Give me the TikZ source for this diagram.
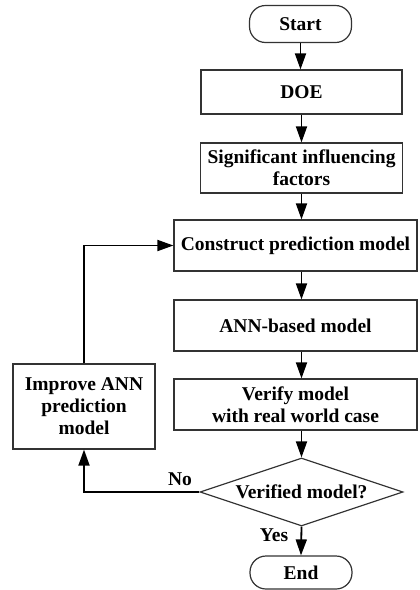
\documentclass[tikz,border=0pt]{standalone}
\usepackage{fontspec}
\setmainfont{Liberation Serif}
\usetikzlibrary{arrows.meta,shapes.geometric}
\tikzset{
  box/.style={draw=black!80, line width=1.2pt, rectangle, inner sep=0pt, align=center,
    font=\fontsize{19.5}{22}\selectfont\bfseries},
  term/.style={box, rounded corners=16pt},
  decision/.style={draw=black!80, line width=1.2pt, diamond, inner sep=0pt, shape aspect=3,
    font=\fontsize{19.5}{22}\selectfont\bfseries},
  arr/.style={draw=black, line width=1.8pt, -{Triangle[length=16pt,width=11pt]}},
  lbl/.style={font=\fontsize{19.5}{22}\selectfont\bfseries, inner sep=0pt}
}
\begin{document}
\begin{tikzpicture}[x=1pt,y=1pt]
\useasboundingbox (0,0) rectangle (420,-590);
\node[term, minimum width=102pt, minimum height=37pt] (start) at (300.5,-24) {Start};
\node[box, minimum width=201pt, minimum height=44pt] (doe) at (301.5,-92) {DOE};
\node[box, minimum width=202pt, minimum height=50pt] (sig) at (301.5,-168) {Significant influencing\\factors};
\node[box, minimum width=243pt, minimum height=51pt] (cons) at (295.5,-245.5) {Construct prediction model};
\node[box, minimum width=243pt, minimum height=51pt] (ann) at (295.5,-325.5) {ANN-based model};
\node[box, minimum width=243pt, minimum height=51pt] (ver) at (295.5,-404.5) {Verify model\\with real world case};
\node[box, minimum width=142pt, minimum height=85pt] (imp) at (84,-406.5) {Improve ANN\\prediction\\model};
\node[decision, minimum width=203pt, minimum height=68pt] (dec) at (301.5,-492) {Verified model?};
\node[term, minimum width=102pt, minimum height=33pt] (end) at (301,-572.5) {End};

\draw[arr] (start.south) -- (start.south |- doe.north);
\draw[arr] (doe.south) -- (doe.south |- sig.north);
\draw[arr] (sig.south) -- (sig.south |- cons.north);
\draw[arr] (sig.south |- cons.south) -- (sig.south |- ann.north);
\draw[arr] (sig.south |- ann.south) -- (sig.south |- ver.north);
\draw[arr] (sig.south |- ver.south) -- (dec.north);
\draw[arr] (dec.south) -- (end.north);
\draw[arr] (dec.west) -| (imp.south);
\draw[arr] (imp.north) |- (cons.west);

\node[lbl] (no) at (180,-479) {No};
\node[lbl] (yes) at (274,-535) {Yes};
\end{tikzpicture}
\end{document}
